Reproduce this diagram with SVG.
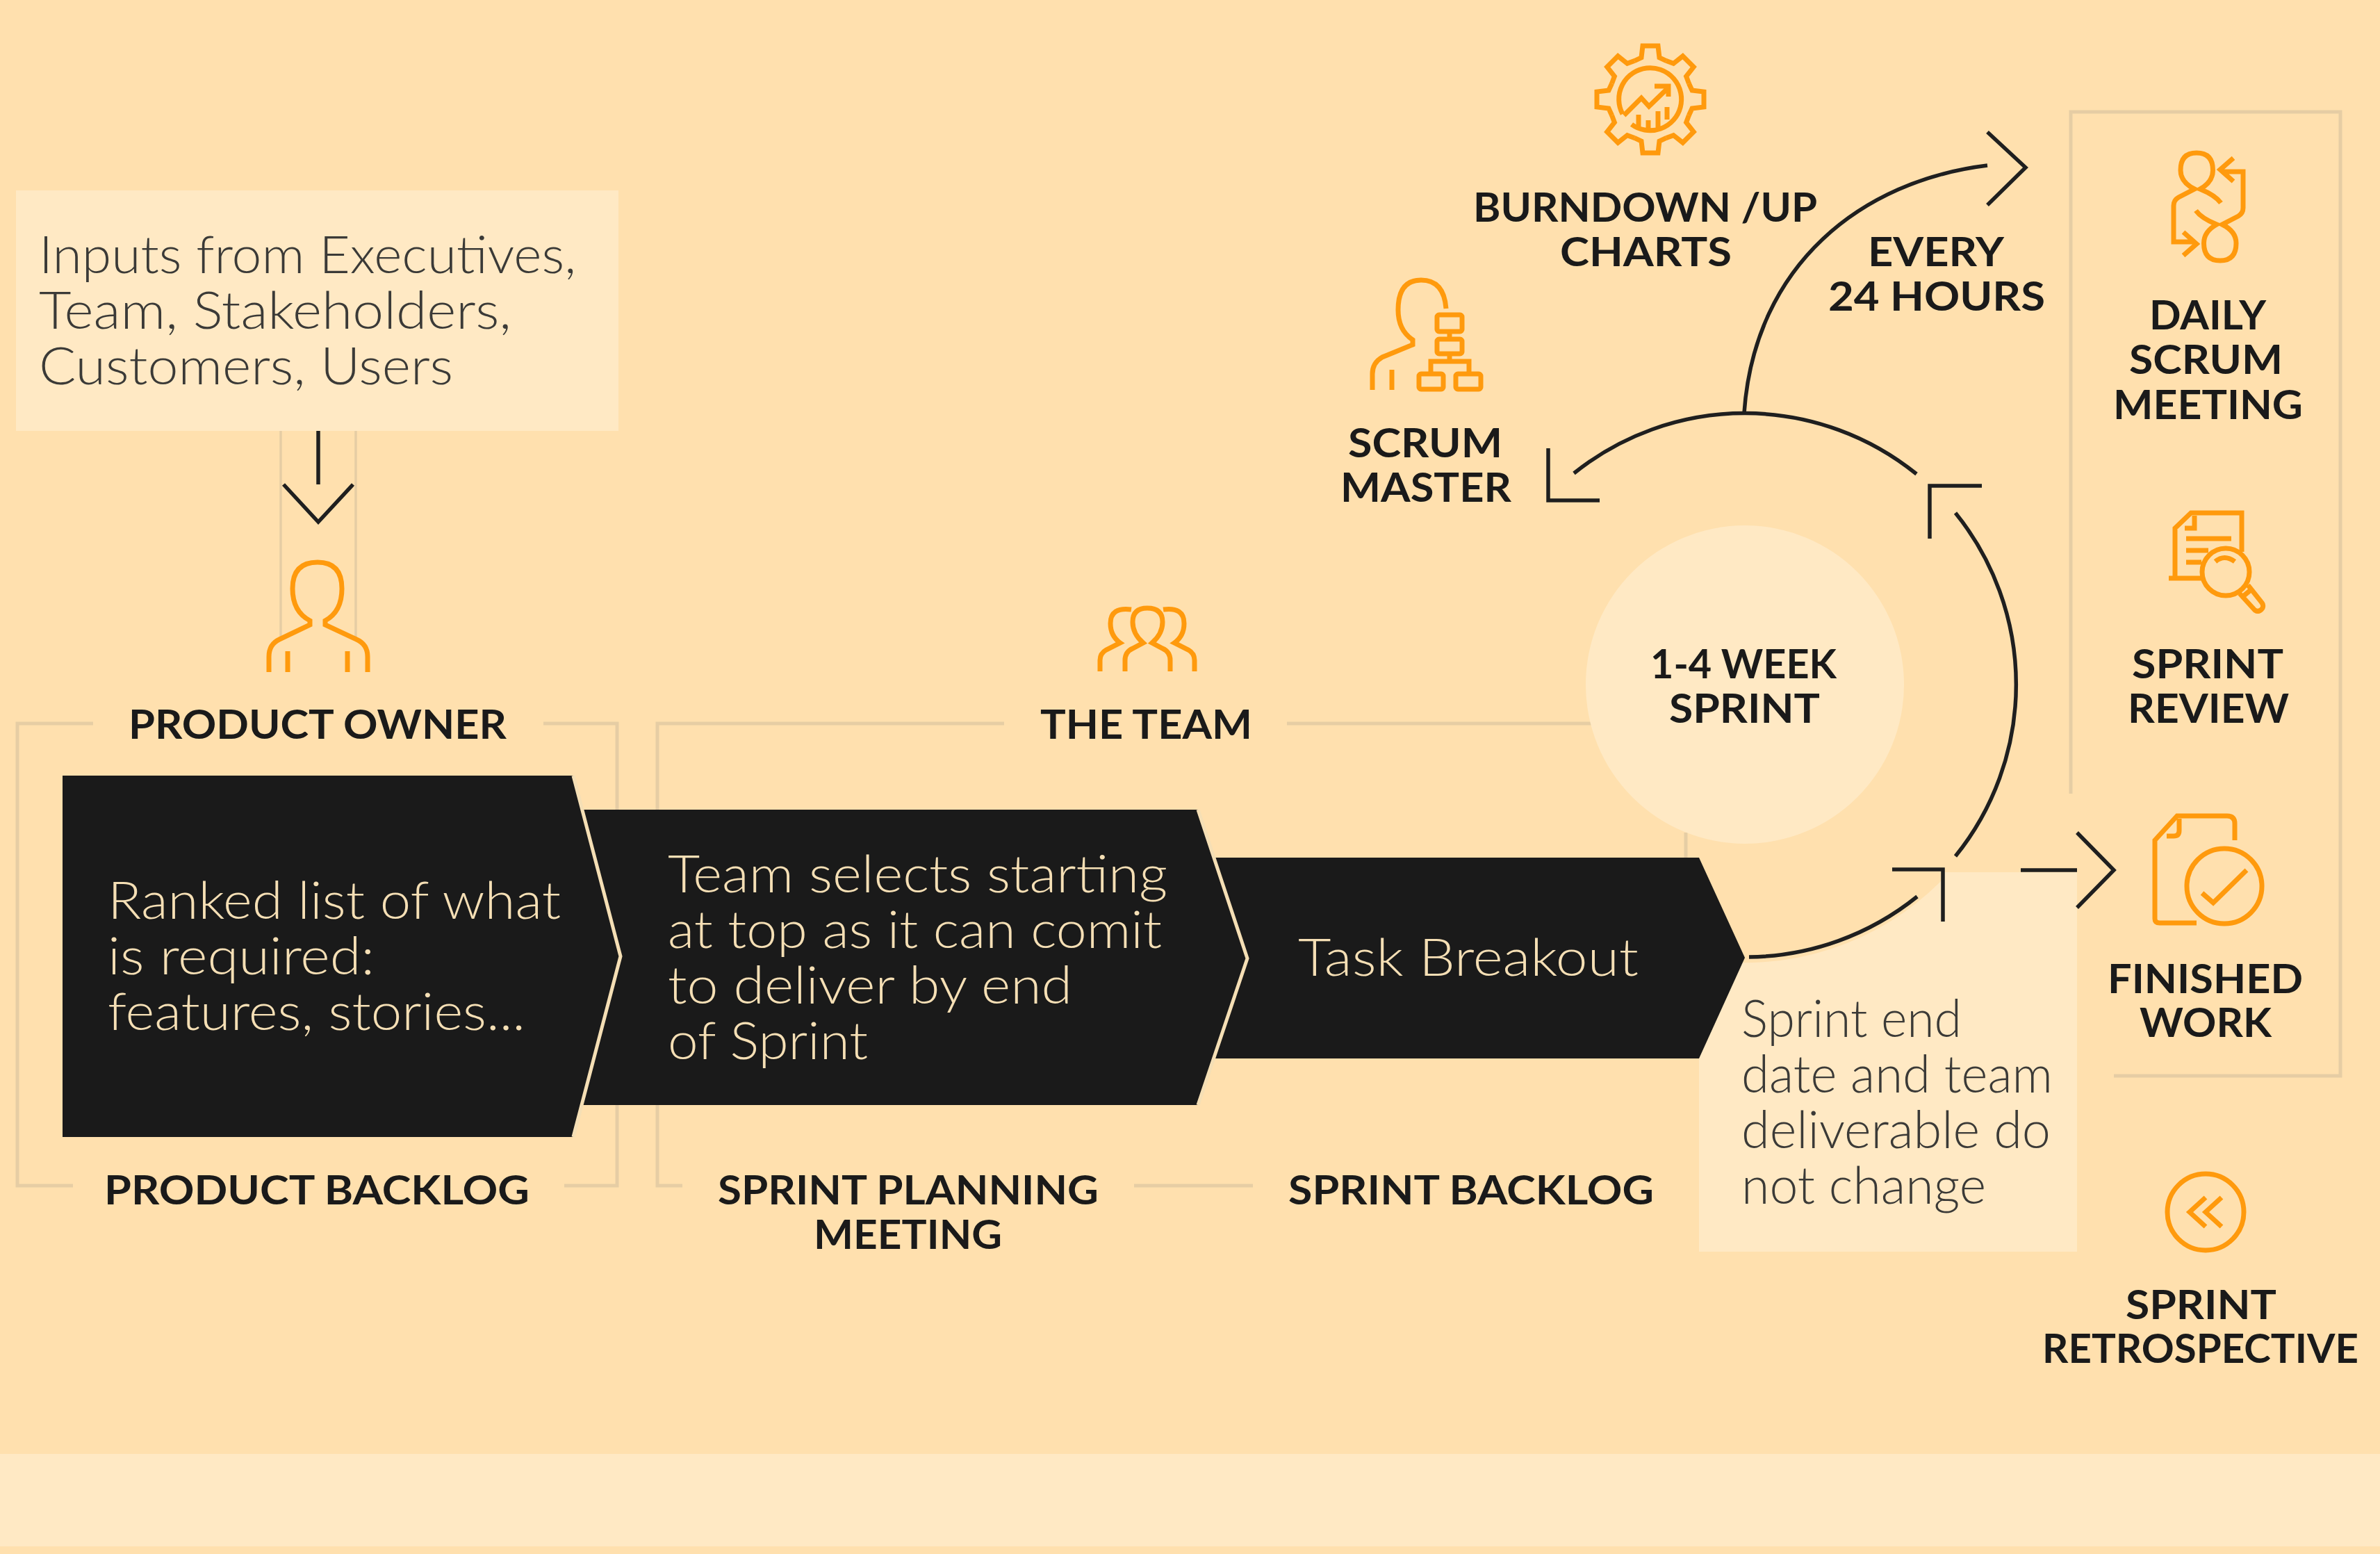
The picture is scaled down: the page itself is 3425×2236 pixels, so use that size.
<svg xmlns="http://www.w3.org/2000/svg" xmlns:xlink="http://www.w3.org/1999/xlink" width="3425" height="2236" viewBox="0 0 3425 2236">
<style>
.lb{font-family:"Lato","Liberation Sans",sans-serif;font-weight:700;font-size:58px;fill:#1a1a1a}
.dk{font-family:"Lato","Liberation Sans",sans-serif;font-weight:300;font-size:74px;fill:#3b3a37}
.cr{font-family:"Lato","Liberation Sans",sans-serif;font-weight:300;font-size:74px;fill:#f5dfb5}
.fr{fill:none;stroke:#e6cda4;stroke-width:5}
.fr2{fill:none;stroke:#e6cda4;stroke-width:3.5}
.ln{fill:none;stroke:#1f1f1f;stroke-width:5.5}
.ic{fill:none;stroke:#ff9a0d;stroke-width:7}
.ar{fill:#1a1a1a}
.ed{fill:none;stroke:#f5dfb5;stroke-width:5}
</style>
<defs>
<path id="tooth" d="M-23 -55.4L-13 -60L-11 -77H11L13 -60L23 -55.4"/>
<g id="pers"><path d="M3196 292Q3188 281 3166 272Q3184.500 262 3184.500 245Q3184.500 220 3161 220Q3138 220 3138 245Q3138 262 3158 272L3135 284Q3128 288 3128 296V348H3159M3142 334L3161 351L3142 367.600"/></g>
</defs>
<rect width="3425" height="2236" fill="#ffe0ae"/>
<rect y="2092" width="3425" height="133" fill="#ffe9c4"/>

<g id="frames">
<path class="fr2" d="M404 620V917M512 620V917"/>
<path class="fr" d="M134 1041H25V1706H105M782 1041H888V1706H812"/>
<path class="fr" d="M1445 1041H946V1706H982M1852 1041H2300M1632 1706H1803M2426 1198V1234"/>
<path class="fr" d="M2980 1142V161H3368V1548H3042"/>
</g>

<g id="inputs"><rect x="23" y="274" width="867" height="346" fill="#ffe9c4"/>
<text class="dk" x="56" y="393" textLength="773" lengthAdjust="spacingAndGlyphs">Inputs from Executives,</text>
<text class="dk" x="56" y="473" textLength="680" lengthAdjust="spacingAndGlyphs">Team, Stakeholders,</text>
<text class="dk" x="56" y="553" textLength="596" lengthAdjust="spacingAndGlyphs">Customers, Users</text></g>

<g id="sprint-note"><path d="M2445 1801H2989V1255H2797V1264A400 400 0 0 1 2445 1380Z" fill="#ffe9c4"/>
<text class="dk" x="2506" y="1492" textLength="317" lengthAdjust="spacingAndGlyphs">Sprint end</text>
<text class="dk" x="2506" y="1572" textLength="448" lengthAdjust="spacingAndGlyphs">date and team</text>
<text class="dk" x="2506" y="1652" textLength="445" lengthAdjust="spacingAndGlyphs">deliverable do</text>
<text class="dk" x="2506" y="1732" textLength="352" lengthAdjust="spacingAndGlyphs">not change</text></g>

<g id="sprint-circle"><circle cx="2511" cy="985" r="229" fill="#ffe9c4"/>
<text class="lb" x="2375" y="976" textLength="268" lengthAdjust="spacingAndGlyphs">1-4 WEEK</text>
<text class="lb" x="2402" y="1040" textLength="217" lengthAdjust="spacingAndGlyphs">SPRINT</text></g>

<g id="task-breakout"><path class="ar" d="M1700 1234H2445L2511 1378L2445 1523H1700Z"/>
<text class="cr" x="1868" y="1404" textLength="490" lengthAdjust="spacingAndGlyphs">Task Breakout</text></g>
<g id="sprint-planning"><path class="ar" d="M800 1165H1724L1795 1379L1724 1590H800Z"/><path class="ed" d="M1724 1165L1795 1379L1724 1590"/>
<text class="cr" x="961" y="1284" textLength="719" lengthAdjust="spacingAndGlyphs">Team selects starting</text>
<text class="cr" x="961" y="1364" textLength="711" lengthAdjust="spacingAndGlyphs">at top as it can comit</text>
<text class="cr" x="961" y="1444" textLength="582" lengthAdjust="spacingAndGlyphs">to deliver by end</text>
<text class="cr" x="961" y="1524" textLength="288" lengthAdjust="spacingAndGlyphs">of Sprint</text></g>
<g id="backlog"><path class="ar" d="M90 1116H825L893 1376L825 1636H90Z"/><path class="ed" d="M825 1116L893 1376L825 1636"/>
<text class="cr" x="155" y="1322" textLength="652" lengthAdjust="spacingAndGlyphs">Ranked list of what</text>
<text class="cr" x="155" y="1402" textLength="384" lengthAdjust="spacingAndGlyphs">is required:</text>
<text class="cr" x="155" y="1482" textLength="601" lengthAdjust="spacingAndGlyphs">features, stories...</text></g>

<g id="connectors">
<path class="ln" d="M458 620V697M408 697L458 751L508 697"/>
<path class="ln" d="M2265 681A393 393 0 0 1 2758 682M2814 738A393 393 0 0 1 2814 1232M2759 1290A393 393 0 0 1 2517 1377"/>
<path class="ln" d="M2510 594C2525 380 2680 260 2860 238M2860 190L2915 241L2860 295"/>
<path class="ln" d="M2228 645V720H2302M2777 775V699H2852M2723 1251H2796V1326"/>
<path class="ln" d="M2908 1252H2989M2989 1198L3042 1252L2989 1306"/>
</g>

<g id="product-owner"><path class="ic" d="M387 967V945Q387 927 402 920L446 899V893Q421 880 421 847Q421 809 457 809Q492 809 492 847Q492 880 468 893V899L513 920Q529 927 529 945V967M414 937V967M500 937V967"/>
<text class="lb" x="185" y="1063" textLength="544" lengthAdjust="spacingAndGlyphs">PRODUCT OWNER</text></g>

<g id="the-team"><path class="ic" d="M1619 966V950Q1619 938 1630 933L1645 925Q1630 912 1630 895Q1630 875 1651 875Q1673 875 1673 895Q1673 912 1658 925L1673 933Q1684 938 1684 950V966"/>
<path class="ic" d="M1628 877Q1598 873 1598 897Q1598 915 1612 925L1592 935Q1583 940 1583 950V966M1674 877Q1704 873 1704 897Q1704 915 1690 925L1710 935Q1719 940 1719 950V966"/>
<text class="lb" x="1497" y="1063" textLength="305" lengthAdjust="spacingAndGlyphs">THE TEAM</text></g>

<g id="burndown"><g class="ic" transform="translate(2375 143)"><use href="#tooth"/><use href="#tooth" transform="rotate(45)"/><use href="#tooth" transform="rotate(90)"/><use href="#tooth" transform="rotate(135)"/><use href="#tooth" transform="rotate(180)"/><use href="#tooth" transform="rotate(225)"/><use href="#tooth" transform="rotate(270)"/><use href="#tooth" transform="rotate(315)"/></g>
<path class="ic" d="M2335 164A45 45 0 1 1 2348 179M2337 166L2362 141L2373 153L2401 126M2381 124H2401V139M2358 165V185M2372 173V187M2386 160V185M2399 154V172"/>
<text class="lb" x="2120" y="319" textLength="495" lengthAdjust="spacingAndGlyphs">BURNDOWN /UP</text>
<text class="lb" x="2245" y="383" textLength="247" lengthAdjust="spacingAndGlyphs">CHARTS</text></g>

<g id="every-24"><text class="lb" x="2688" y="383" textLength="196" lengthAdjust="spacingAndGlyphs">EVERY</text>
<text class="lb" x="2631" y="447" textLength="312" lengthAdjust="spacingAndGlyphs">24 HOURS</text></g>

<g id="scrum-master"><path class="ic" d="M2081 444Q2078 403 2045 403Q2012 403 2012 446Q2012 475 2033 489V496L1989 514Q1975 522 1975 538V561M2003 532V561M2086 477V488M2086 509V520M2059 537V520H2114V537"/>
<rect class="ic" x="2068" y="453" width="36" height="24" rx="3"/><rect class="ic" x="2068" y="488" width="36" height="21" rx="3"/><rect class="ic" x="2042" y="538" width="35" height="22" rx="3"/><rect class="ic" x="2095" y="538" width="36" height="22" rx="3"/>
<text class="lb" x="1940" y="658" textLength="222" lengthAdjust="spacingAndGlyphs">SCRUM</text>
<text class="lb" x="1929" y="722" textLength="246" lengthAdjust="spacingAndGlyphs">MASTER</text></g>

<g id="daily-scrum"><use class="ic" href="#pers"/><use class="ic" href="#pers" transform="rotate(180 3178 297.500)"/>
<text class="lb" x="3093" y="474" textLength="168" lengthAdjust="spacingAndGlyphs">DAILY</text>
<text class="lb" x="3064" y="538" textLength="221" lengthAdjust="spacingAndGlyphs">SCRUM</text>
<text class="lb" x="3041" y="603" textLength="273" lengthAdjust="spacingAndGlyphs">MEETING</text></g>

<g id="sprint-review"><path class="ic" d="M3121 832H3170M3130 832V760L3153 738H3226V794M3158 742V760H3144M3146 775H3211M3146 792H3178M3146 809H3168M3188 808Q3201 797 3216 808M3223 854L3245 878Q3251 882 3256 875Q3258 870 3254 866L3235 842M3228 858L3240 848"/>
<circle class="ic" cx="3203" cy="823" r="34"/>
<text class="lb" x="3068" y="976" textLength="218" lengthAdjust="spacingAndGlyphs">SPRINT</text>
<text class="lb" x="3062" y="1040" textLength="232" lengthAdjust="spacingAndGlyphs">REVIEW</text></g>

<g id="finished-work"><path class="ic" d="M3161 1328H3108Q3101 1328 3101 1322V1209L3133 1174H3205Q3216 1174 3216 1185V1209M3136 1178V1195Q3136 1203 3128 1203H3118M3169 1285L3185 1299L3233 1252"/>
<circle class="ic" cx="3201" cy="1275" r="54"/>
<text class="lb" x="3033" y="1429" textLength="281" lengthAdjust="spacingAndGlyphs">FINISHED</text>
<text class="lb" x="3079" y="1492" textLength="190" lengthAdjust="spacingAndGlyphs">WORK</text></g>

<g id="sprint-retrospective"><circle class="ic" cx="3174" cy="1744" r="55"/><path class="ic" d="M3174 1723L3151 1744L3174 1765M3197 1723L3174 1744L3197 1765"/>
<text class="lb" x="3059" y="1898" textLength="217" lengthAdjust="spacingAndGlyphs">SPRINT</text>
<text class="lb" x="2939" y="1961" textLength="455" lengthAdjust="spacingAndGlyphs">RETROSPECTIVE</text></g>

<g id="bottom-labels"><text class="lb" x="150" y="1733" textLength="612" lengthAdjust="spacingAndGlyphs">PRODUCT BACKLOG</text>
<text class="lb" x="1033" y="1733" textLength="548" lengthAdjust="spacingAndGlyphs">SPRINT PLANNING</text>
<text class="lb" x="1171" y="1797" textLength="271" lengthAdjust="spacingAndGlyphs">MEETING</text>
<text class="lb" x="1854" y="1733" textLength="526" lengthAdjust="spacingAndGlyphs">SPRINT BACKLOG</text></g>
</svg>
